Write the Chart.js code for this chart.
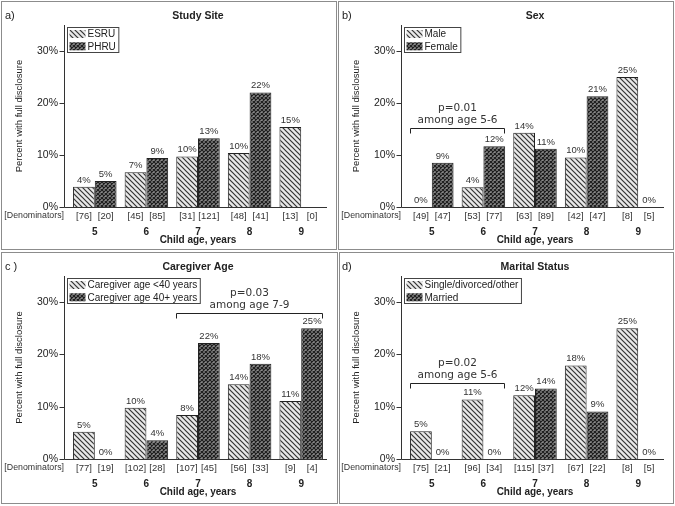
<!DOCTYPE html>
<html lang="en">
  <head>
    <meta charset="UTF-8" />
    <title>Full disclosure by child age</title>
    <script src="https://cdn.jsdelivr.net/npm/chart.js"></script>
    <style>
      body {
        margin: 0;
        background: #fff;
        width: 675px;
        height: 506px;
        position: relative;
        overflow: hidden;
      }
      .frame {
        position: absolute;
        border: 1px solid #8c8c8c;
        box-sizing: border-box;
      }
      canvas {
        position: absolute;
      }
    </style>
  </head>
  <body>
    <div class="frame" style="left:1px;top:1px;width:336px;height:249px"></div>
    <div class="frame" style="left:338px;top:1px;width:336px;height:249px"></div>
    <div class="frame" style="left:1px;top:252px;width:337px;height:252px"></div>
    <div class="frame" style="left:339px;top:252px;width:335px;height:252px"></div>

    <canvas id="chartA" style="left:2px;top:2px" width="333" height="247"></canvas>
    <canvas id="chartB" style="left:339px;top:2px" width="333" height="247"></canvas>
    <canvas id="chartC" style="left:2px;top:252px" width="333" height="251"></canvas>
    <canvas id="chartD" style="left:339px;top:252px" width="333" height="251"></canvas>

    <script>
      // child age categories and y ticks
      const ages = ["5", "6", "7", "8", "9"];
      const yTicks = [0, 10, 20, 30];

      // a) study site - percent with full disclosure
      const siteEsru = [3.9, 6.7, 9.7, 10.4, 15.4];
      const sitePhru = [5.0, 9.4, 13.2, 22.0, null];
      const siteEsruN = [76, 45, 31, 48, 13];
      const sitePhruN = [20, 85, 121, 41, 0];

      // b) sex
      const sexMale = [0, 3.8, 14.3, 9.5, 25.0];
      const sexFemale = [8.5, 11.7, 11.2, 21.3, 0];
      const sexMaleN = [49, 53, 63, 42, 8];
      const sexFemaleN = [47, 77, 89, 47, 5];

      // c) caregiver age
      const cgYoung = [5.2, 9.8, 8.4, 14.3, 11.1];
      const cgOld = [0, 3.6, 22.2, 18.2, 25.0];
      const cgYoungN = [77, 102, 107, 56, 9];
      const cgOldN = [19, 28, 45, 33, 4];

      // d) marital status
      const msSingle = [5.3, 11.4, 12.2, 17.9, 25.0];
      const msMarried = [0, 0, 13.5, 9.1, 0];
      const msSingleN = [75, 96, 115, 67, 8];
      const msMarriedN = [21, 34, 37, 22, 5];

      const SANS = '"Liberation Sans", Arial, sans-serif';
      const INK = "#222";
      Chart.defaults.font.family = SANS;
      Chart.defaults.color = INK;

      // fill patterns
      function makeHatch() {
        const t = document.createElement("canvas");
        t.width = 5;
        t.height = 5;
        const c = t.getContext("2d");
        c.fillStyle = "#e8e8e8";
        c.fillRect(0, 0, 5, 5);
        c.strokeStyle = "#333";
        c.lineWidth = 1.2;
        c.beginPath();
        c.moveTo(-1, -1);
        c.lineTo(6, 6);
        c.moveTo(-1, 4);
        c.lineTo(1, 6);
        c.moveTo(4, -1);
        c.lineTo(6, 1);
        c.stroke();
        return c.createPattern(t, "repeat");
      }

      function makeCross() {
        const t = document.createElement("canvas");
        t.width = 4;
        t.height = 4;
        const c = t.getContext("2d");
        c.fillStyle = "#8a8a8a";
        c.fillRect(0, 0, 4, 4);
        c.strokeStyle = "#1e1e1e";
        c.lineWidth = 1.2;
        c.beginPath();
        c.moveTo(0, 0);
        c.lineTo(4, 4);
        c.moveTo(4, 0);
        c.lineTo(0, 4);
        c.stroke();
        return c.createPattern(t, "repeat");
      }

      const hatch = makeHatch();
      const cross = makeCross();

      const panelDecor = {
        id: "panelDecor",
        afterDraw(chart, args, o) {
          const { ctx, chartArea: area } = chart;
          const y = chart.scales.y;
          const axisX = area.left - 4.5;
          ctx.save();

          // axes
          ctx.strokeStyle = "#333";
          ctx.lineWidth = 1;
          ctx.beginPath();
          ctx.moveTo(axisX, area.top);
          ctx.lineTo(axisX, area.bottom + 0.5);
          ctx.moveTo(axisX, Math.round(area.bottom) + 0.5);
          ctx.lineTo(area.right, Math.round(area.bottom) + 0.5);
          yTicks.forEach((v) => {
            const py = Math.round(y.getPixelForValue(v)) + 0.5;
            ctx.moveTo(axisX - 5, py);
            ctx.lineTo(axisX, py);
          });
          ctx.stroke();

          // panel letter and title
          ctx.fillStyle = INK;
          ctx.textBaseline = "middle";
          ctx.textAlign = "left";
          ctx.font = "11px " + SANS;
          ctx.fillText(o.letter, 3, o.titleY);
          ctx.textAlign = "center";
          ctx.font = "bold 10.5px " + SANS;
          ctx.fillText(o.title, (area.left + area.right) / 2, o.titleY);

          // value labels and denominators
          const metas = [chart.getDatasetMeta(0), chart.getDatasetMeta(1)];
          ctx.font = "9.5px " + SANS;
          ctx.fillStyle = "#333";
          metas.forEach((meta, di) => {
            const vals = chart.data.datasets[di].data;
            meta.data.forEach((bar, j) => {
              if (vals[j] !== null) {
                ctx.textBaseline = "bottom";
                ctx.fillText(Math.round(vals[j]) + "%", bar.x, bar.y - 2);
              }
              ctx.textBaseline = "middle";
              ctx.fillText("[" + o.denoms[di][j] + "]", bar.x, area.bottom + 9);
            });
          });
          ctx.textAlign = "right";
          ctx.font = "8.8px " + SANS;
          ctx.fillText("[Denominators]", area.left - 5, area.bottom + 9);

          // legend
          const lx = Math.round(area.left) - 1.5;
          const ly = Math.round(area.top) + 2.5;
          ctx.font = "10px " + SANS;
          const tw = Math.max(
            ...chart.data.datasets.map((d) => ctx.measureText(d.label).width)
          );
          ctx.fillStyle = "#fff";
          ctx.fillRect(lx, ly, 23 + tw, 25);
          ctx.strokeStyle = "#444";
          ctx.strokeRect(lx, ly, 23 + tw, 25);
          chart.data.datasets.forEach((d, i) => {
            const cy = ly + 6.5 + i * 12.3;
            ctx.fillStyle = d.backgroundColor;
            ctx.fillRect(lx + 2, cy - 4, 16, 8);
            ctx.fillStyle = INK;
            ctx.textAlign = "left";
            ctx.textBaseline = "middle";
            ctx.fillText(d.label, lx + 20, cy + 0.5);
          });

          // significance bracket
          if (o.bracket) {
            const b = o.bracket;
            const first = metas[0].data[b.from];
            const last = metas[1].data[b.to];
            const x1 = Math.round(first.x - first.width / 2) + 0.5;
            const x2 = Math.round(last.x + last.width / 2) - 0.5;
            const by = Math.round(y.getPixelForValue(b.level)) + 0.5;
            ctx.strokeStyle = "#222";
            ctx.lineWidth = 1;
            ctx.beginPath();
            ctx.moveTo(x1, by + 5);
            ctx.lineTo(x1, by);
            ctx.lineTo(x2, by);
            ctx.lineTo(x2, by + 5);
            ctx.stroke();
            ctx.fillStyle = "#333";
            ctx.textAlign = "center";
            ctx.textBaseline = "middle";
            ctx.font = '10.5px "DejaVu Sans", sans-serif';
            ctx.fillText(b.text[0], (x1 + x2) / 2, by - 20);
            ctx.fillText(b.text[1], (x1 + x2) / 2, by - 8);
          }
          ctx.restore();
        },
      };

      function makePanel(id, p) {
        const h = document.getElementById(id).height;
        const bottomH = h - p.areaBottom;
        new Chart(document.getElementById(id), {
          type: "bar",
          data: {
            labels: ages,
            datasets: [
              {
                label: p.labels[0],
                data: p.series[0],
                backgroundColor: hatch,
                borderColor: "#222",
                borderWidth: (c) => (c.raw ? 1 : 0),
              },
              {
                label: p.labels[1],
                data: p.series[1],
                backgroundColor: cross,
                borderColor: "#222",
                borderWidth: (c) => (c.raw ? 1 : 0),
              },
            ],
          },
          options: {
            responsive: false,
            animation: false,
            layout: { padding: { top: p.areaTop, right: 8, left: 0, bottom: 0 } },
            datasets: { bar: { categoryPercentage: 0.843, barPercentage: 1 } },
            scales: {
              x: {
                grid: { display: false, drawTicks: false },
                border: { display: false },
                ticks: {
                  padding: 19,
                  color: INK,
                  font: { size: 10, weight: "bold" },
                },
                title: {
                  display: true,
                  text: "Child age, years",
                  color: INK,
                  font: { size: 10, weight: "bold" },
                  padding: { top: 0, bottom: bottomH - 39 },
                },
                afterFit: (s) => {
                  s.height = bottomH;
                },
              },
              y: {
                min: 0,
                max: 35,
                grid: { display: false, drawTicks: false },
                border: { display: false },
                ticks: {
                  stepSize: 10,
                  includeBounds: false,
                  padding: 11,
                  color: INK,
                  font: { size: 10.5 },
                  callback: (v) => v + "%",
                },
                title: {
                  display: true,
                  text: "Percent with full disclosure",
                  color: INK,
                  font: { size: 9.5 },
                  padding: { top: 12, bottom: 0 },
                },
                afterFit: (s) => {
                  s.width = 67;
                },
              },
            },
            plugins: {
              legend: { display: false },
              tooltip: { enabled: false },
              panelDecor: {
                letter: p.letter,
                title: p.title,
                titleY: p.titleY,
                denoms: p.denoms,
                bracket: p.bracket,
              },
            },
          },
          plugins: [panelDecor],
        });
      }

      makePanel("chartA", {
        letter: "a)",
        title: "Study Site",
        titleY: 14,
        areaTop: 23,
        areaBottom: 205,
        labels: ["ESRU", "PHRU"],
        series: [siteEsru, sitePhru],
        denoms: [siteEsruN, sitePhruN],
      });

      makePanel("chartB", {
        letter: "b)",
        title: "Sex",
        titleY: 14,
        areaTop: 23,
        areaBottom: 205,
        labels: ["Male", "Female"],
        series: [sexMale, sexFemale],
        denoms: [sexMaleN, sexFemaleN],
        bracket: { from: 0, to: 1, level: 15.2, text: ["p=0.01", "among age 5-6"] },
      });

      makePanel("chartC", {
        letter: "c )",
        title: "Caregiver Age",
        titleY: 15,
        areaTop: 24,
        areaBottom: 207,
        labels: ["Caregiver age <40 years", "Caregiver age 40+ years"],
        series: [cgYoung, cgOld],
        denoms: [cgYoungN, cgOldN],
        bracket: { from: 2, to: 4, level: 27.9, text: ["p=0.03", "among age 7-9"] },
      });

      makePanel("chartD", {
        letter: "d)",
        title: "Marital Status",
        titleY: 15,
        areaTop: 24,
        areaBottom: 207,
        labels: ["Single/divorced/other", "Married"],
        series: [msSingle, msMarried],
        denoms: [msSingleN, msMarriedN],
        bracket: { from: 0, to: 1, level: 14.5, text: ["p=0.02", "among age 5-6"] },
      });
    </script>
  </body>
</html>
